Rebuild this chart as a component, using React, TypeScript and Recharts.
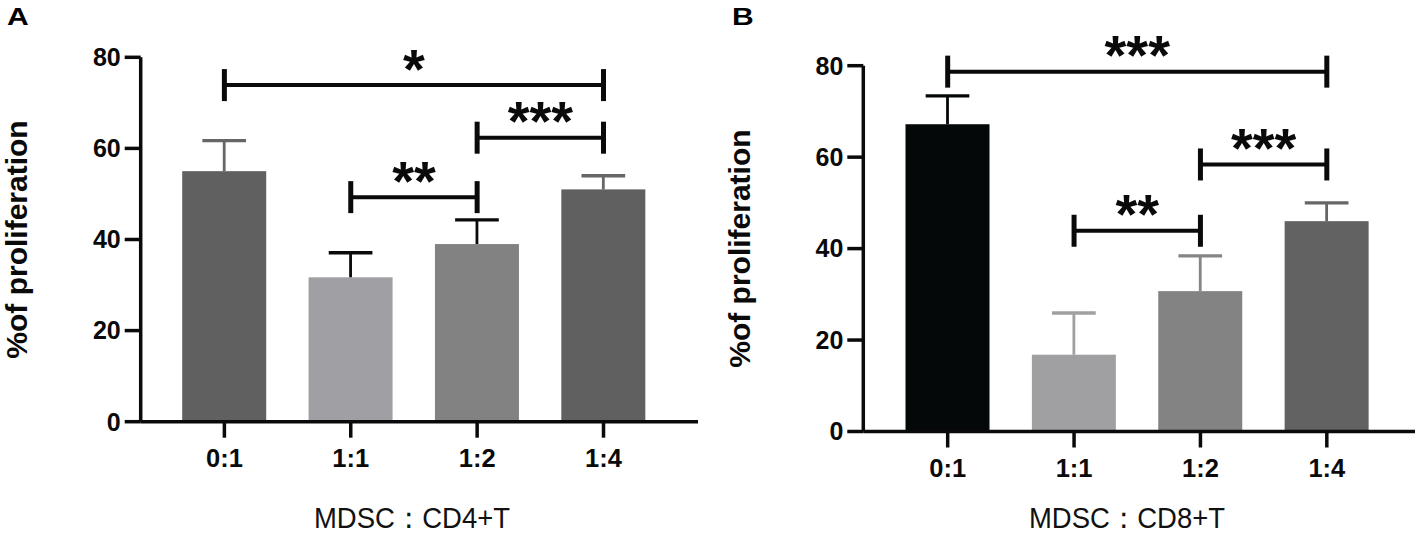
import React from 'react';
import { BarChart, Bar, XAxis, YAxis, ReferenceLine } from 'recharts';

// ---------- data ----------
const categories = ['0:1', '1:1', '1:2', '1:4'];

const cd4Mean = [55.0, 31.7, 39.0, 51.0];
const cd4SD = [6.7, 5.4, 5.3, 3.0];

const cd8Mean = [67.2, 16.8, 30.7, 46.0];
const cd8SD = [6.2, 9.1, 7.7, 4.0];

const yTicks = [0, 20, 40, 60, 80];

// significance brackets: from category, to category, height (y units), label
const cd4Sig = [
  { from: '0:1', to: '1:4', y: 73.9, text: '*' },
  { from: '1:2', to: '1:4', y: 62.35, text: '***' },
  { from: '1:1', to: '1:2', y: 49.3, text: '**' },
];
const cd8Sig = [
  { from: '0:1', to: '1:4', y: 78.7, text: '***' },
  { from: '1:2', to: '1:4', y: 58.4, text: '***' },
  { from: '1:1', to: '1:2', y: 43.9, text: '**' },
];

// ---------- styles ----------
const cd4Fill = ['#606060', '#a0a0a4', '#828282', '#606060'];
const cd4ErrColor = ['#666666', '#0a0a0a', '#0a0a0a', '#666666'];
const cd8Fill = ['#050808', '#a0a0a3', '#838383', '#626262'];
const cd8ErrColor = ['#050808', '#a0a0a3', '#858585', '#666666'];

const FONT = '"Liberation Sans", Arial, Helvetica, sans-serif';
const AXIS_W = 3.5;

const makeRows = (means: number[], sds: number[]) =>
  categories.map((name, i) => ({ name, value: means[i], sd: sds[i], idx: i }));

const makeBarShape = (fills: string[], errColors: string[]) => (props: any) => {
  const { x, y, width, height, payload } = props;
  const i = payload.idx;
  const pxPerUnit = height / payload.value;
  const errTop = y - payload.sd * pxPerUnit;
  const cx = x + width / 2;
  const capHalf = width * 0.26;
  return (
    <g>
      <rect x={x} y={y} width={width} height={height} fill={fills[i]} />
      <line x1={cx} x2={cx} y1={y} y2={errTop} stroke={errColors[i]} strokeWidth={2.8} />
      <line x1={cx - capHalf} x2={cx + capHalf} y1={errTop} y2={errTop} stroke={errColors[i]} strokeWidth={3.4} />
    </g>
  );
};

const STAR_SIZE = 56;
const makeBracket = (text: string) => (props: any) => {
  const { x1, x2, y1 } = props;
  const half = 16;
  const mid = (x1 + x2) / 2;
  return (
    <g>
      <line x1={x1} x2={x2} y1={y1} y2={y1} stroke="#0a0a0a" strokeWidth={4} />
      <line x1={x1} x2={x1} y1={y1 - half} y2={y1 + half} stroke="#0a0a0a" strokeWidth={5} />
      <line x1={x2} x2={x2} y1={y1 - half} y2={y1 + half} stroke="#0a0a0a" strokeWidth={5} />
      <text
        x={mid}
        y={y1 - 29 + 0.566 * STAR_SIZE}
        textAnchor="middle"
        fontFamily={FONT}
        fontWeight={700}
        fontSize={STAR_SIZE}
        fill="#0a0a0a"
      >
        {text}
      </text>
    </g>
  );
};

type PanelProps = {
  letter: string;
  title: string;
  means: number[];
  sds: number[];
  fills: string[];
  errColors: string[];
  sig: { from: string; to: string; y: number; text: string }[];
  width: number;
  margin: { top: number; right: number; bottom: number; left: number };
  padding: { left: number; right: number };
  titleX: number;
  letterX: number;
  left: number;
};

const Panel = (p: PanelProps) => {
  const rows = makeRows(p.means, p.sds);
  const yLabel = (lp: any) => {
    const vb = lp.viewBox;
    const cx = vb.x + vb.width - 113.5;
    const cy = vb.y + vb.height / 2;
    return (
      <text
        x={cx}
        y={cy}
        transform={`rotate(-90, ${cx}, ${cy})`}
        textAnchor="middle"
        fontFamily={FONT}
        fontWeight={700}
        fontSize={30}
        fill="#0a0a0a"
      >
        %of proliferation
      </text>
    );
  };
  const xLabel = () => (
    <g>
      <text
        x={p.titleX}
        y={527.5}
        textAnchor="middle"
        fontFamily={FONT}
        fontSize={30}
        fill="#111"
        textLength={196}
        lengthAdjust="spacingAndGlyphs"
      >
        {p.title}
      </text>
      <text
        x={0}
        y={0}
        transform={`translate(${p.letterX}, 24.5) scale(1.28, 1)`}
        fontFamily={FONT}
        fontWeight={700}
        fontSize={23.5}
        fill="#000"
      >
        {p.letter}
      </text>
    </g>
  );
  return (
    <div style={{ position: 'absolute', left: p.left, top: 0, width: p.width, height: 539 }}>
      <BarChart width={p.width} height={539} data={rows} margin={p.margin} barCategoryGap={0}>
        <XAxis
          dataKey="name"
          type="category"
          interval={0}
          padding={p.padding}
          height={60}
          tickSize={16}
          tickMargin={11}
          axisLine={{ stroke: '#0a0a0a', strokeWidth: AXIS_W }}
          tickLine={{ stroke: '#0a0a0a', strokeWidth: AXIS_W }}
          tick={{ fontSize: 25.5, fontWeight: 700, fill: '#0a0a0a', fontFamily: FONT }}
          label={xLabel}
        />
        <YAxis
          domain={[0, 80]}
          ticks={yTicks}
          interval={0}
          width={60}
          tickSize={16}
          tickMargin={4}
          axisLine={{ stroke: '#0a0a0a', strokeWidth: AXIS_W }}
          tickLine={{ stroke: '#0a0a0a', strokeWidth: AXIS_W }}
          tick={{ fontSize: 25, fontWeight: 700, fill: '#0a0a0a', fontFamily: FONT }}
          label={yLabel}
          allowDataOverflow
        />
        <Bar dataKey="value" barSize={84} isAnimationActive={false} shape={makeBarShape(p.fills, p.errColors)} />
        {p.sig.map((s, i) => (
          <ReferenceLine
            key={i}
            segment={[
              { x: s.from, y: s.y },
              { x: s.to, y: s.y },
            ]}
            ifOverflow="visible"
            shape={makeBracket(s.text)}
          />
        ))}
      </BarChart>
    </div>
  );
}

export default function App() {
  return (
    <div style={{ position: 'absolute', left: 0, top: 0, width: 1417, height: 539, background: '#fff' }}>
      <Panel
        letter="A"
        title="MDSC：CD4+T"
        means={cd4Mean}
        sds={cd4SD}
        fills={cd4Fill}
        errColors={cd4ErrColor}
        sig={cd4Sig}
        width={708}
        left={0}
        margin={{ top: 57.3, right: 10, bottom: 57.3, left: 80.7 }}
        padding={{ left: 20.5, right: 31.3 }}
        titleX={412}
        letterX={7}
      />
      <Panel
        letter="B"
        title="MDSC：CD8+T"
        means={cd8Mean}
        sds={cd8SD}
        fills={cd8Fill}
        errColors={cd8ErrColor}
        sig={cd8Sig}
        width={709}
        left={708}
        margin={{ top: 65.7, right: 2, bottom: 47.5, left: 95.3 }}
        padding={{ left: 21.2, right: 25 }}
        titleX={419}
        letterX={24}
      />
    </div>
  );
}
